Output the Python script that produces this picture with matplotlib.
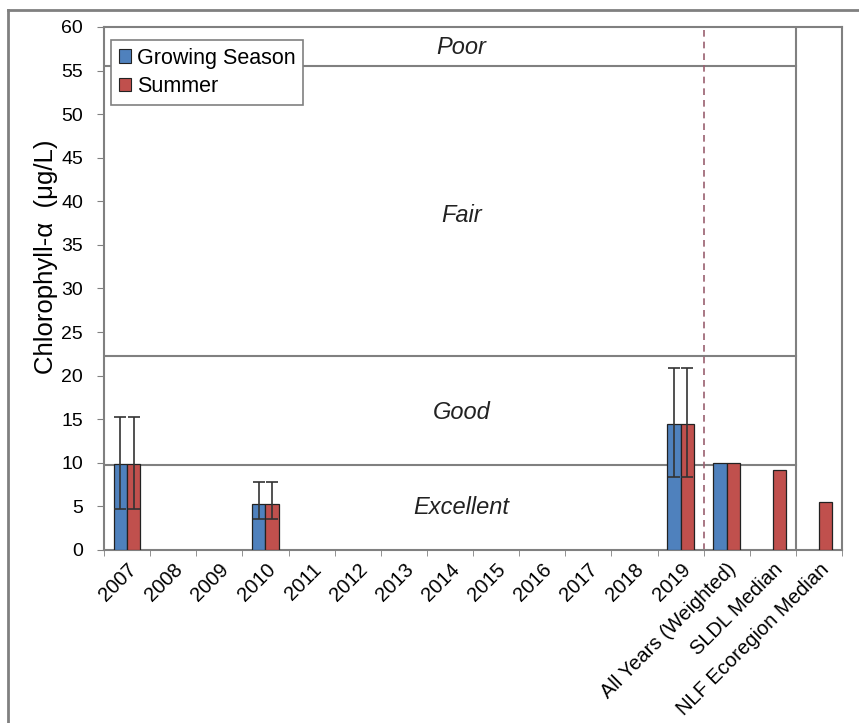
import numpy as np
import matplotlib.pyplot as plt
from matplotlib.lines import Line2D
from matplotlib.patches import Patch

plt.rcParams["font.family"] = ["Liberation Sans", "DejaVu Sans"]

# ===== Data =====
categories = ["2007", "2008", "2009", "2010", "2011", "2012", "2013", "2014",
              "2015", "2016", "2017", "2018", "2019", "All Years (Weighted)",
              "SLDL Median", "NLF Ecoregion Median"]
nan = np.nan
growing = np.array([9.9, nan, nan, 5.3, nan, nan, nan, nan,
                    nan, nan, nan, nan, 14.5, 10.0, nan, nan])
summer = np.array([9.9, nan, nan, 5.3, nan, nan, nan, nan,
                   nan, nan, nan, nan, 14.5, 10.0, 9.2, 5.5])
# error bar ends (min / max) for the sampled years
err_low = np.array([4.7, nan, nan, 3.6, nan, nan, nan, nan,
                    nan, nan, nan, nan, 8.4, nan, nan, nan])
err_high = np.array([15.3, nan, nan, 7.8, nan, nan, nan, nan,
                     nan, nan, nan, nan, 20.9, nan, nan, nan])

# trophic class boundaries (chlorophyll, ug/L)
class_bounds = [9.8, 22.2, 55.5]
class_names = ["Excellent", "Good", "Fair", "Poor"]
class_label_y = [4.9, 15.8, 38.4, 57.7]

blue = "#4F81BD"
red = "#C0504D"
grid_gray = "#808080"

x = np.arange(len(categories))
w = 0.29

fig = plt.figure(figsize=(8.59, 7.23), dpi=100)
ax = fig.add_axes([0.1211, 0.2393, 0.8591, 0.7234])

# class boundary lines stop at the last category divider
for b in class_bounds:
    ax.plot([-0.5, 14.5], [b, b], color=grid_gray, lw=1.5, zorder=1)
ax.axvline(14.5, color=grid_gray, lw=1.5, zorder=1)
ax.axvline(12.5, color="#9a6070", lw=1.2, ls=(0, (4, 3)), zorder=1)

for name, yy in zip(class_names, class_label_y):
    ax.text(7.25, yy, name, ha="center", va="center", fontsize=17,
            style="italic", color="#222222")

ax.bar(x - w / 2, growing, w, color=blue, edgecolor="#222222", lw=0.9, zorder=3)
ax.bar(x + w / 2, summer, w, color=red, edgecolor="#222222", lw=0.9, zorder=3)

mask = ~np.isnan(err_low)
for off, vals in [(-w / 2, growing), (w / 2, summer)]:
    yerr = np.vstack([vals[mask] - err_low[mask], err_high[mask] - vals[mask]])
    ax.errorbar(x[mask] + off, vals[mask], yerr=yerr, fmt="none",
                ecolor="#333333", elinewidth=1.2, capsize=4, capthick=1.2,
                zorder=4)

ax.set_xlim(-0.5, 15.5)
ax.set_ylim(0, 60)
ax.set_yticks(np.arange(0, 61, 5))
ax.set_xticks(x)
ax.set_xticklabels(categories, rotation=45, ha="right",
                   rotation_mode="anchor", fontsize=14.5)
ax.set_xticks(np.arange(-0.5, 16, 1), minor=True)
ax.tick_params(axis="x", which="major", length=0, pad=7)
ax.tick_params(axis="x", which="minor", length=4, color=grid_gray)
ax.tick_params(axis="y", length=5, color=grid_gray, labelsize=14, pad=10)
for s in ax.spines.values():
    s.set_color(grid_gray)
    s.set_linewidth(1.5)

ax.set_ylabel("Chlorophyll-α  (μg/L)", fontsize=18.5)
ax.yaxis.set_label_coords(-0.062, 0.56)

handles = [Patch(facecolor=blue, edgecolor="#222222", lw=0.8),
           Patch(facecolor=red, edgecolor="#222222", lw=0.8)]
leg = ax.legend(handles, ["Growing Season", "Summer"], loc="upper left",
                bbox_to_anchor=(0.0095, 0.975), borderaxespad=0,
                fontsize=15.5, fancybox=False, framealpha=1,
                edgecolor=grid_gray, handlelength=0.6, handleheight=0.6,
                handletextpad=0.25, borderpad=0.35, labelspacing=0.35)
leg.get_frame().set_linewidth(1.2)

# outer chart border
fig.add_artist(Line2D([8 / 859, 8 / 859], [0, 1 - 10 / 723],
                      transform=fig.transFigure, color=grid_gray, lw=2))
fig.add_artist(Line2D([8 / 859, 1], [1 - 10 / 723, 1 - 10 / 723],
                      transform=fig.transFigure, color=grid_gray, lw=2))

fig.savefig("out.png", dpi=100)
